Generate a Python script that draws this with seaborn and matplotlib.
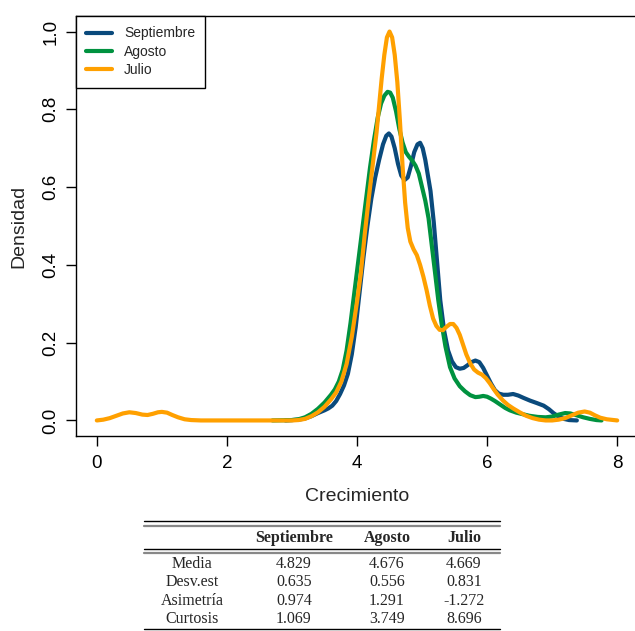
import numpy as np
import pandas as pd
import matplotlib
matplotlib.use("Agg")
import matplotlib.pyplot as plt
from matplotlib.lines import Line2D
import seaborn as sns

# ---------------- data ----------------
sep_x = [2.9, 3.1, 3.2, 3.3, 3.4, 3.5, 3.56, 3.62, 3.68, 3.74, 3.8, 3.86, 3.92, 3.98, 4.04,
         4.1, 4.16, 4.22, 4.28, 4.34, 4.4, 4.45, 4.49, 4.53, 4.58, 4.63, 4.68, 4.73, 4.78,
         4.83, 4.88, 4.93, 4.97, 5.01, 5.05, 5.09, 5.13, 5.18, 5.23, 5.28, 5.34, 5.4, 5.46,
         5.52, 5.58, 5.64, 5.7, 5.76, 5.82, 5.88, 5.94, 6.0, 6.06, 6.12, 6.18, 6.25, 6.32,
         6.4, 6.48, 6.56, 6.66, 6.76, 6.87, 6.95, 7.02, 7.1, 7.18, 7.26, 7.38]
sep_y = [0.0, 0.002, 0.005, 0.011, 0.019, 0.026, 0.031, 0.038, 0.05, 0.068, 0.09, 0.12,
         0.17, 0.24, 0.33, 0.42, 0.5, 0.57, 0.625, 0.67, 0.71, 0.732, 0.738, 0.73, 0.70,
         0.66, 0.63, 0.618, 0.625, 0.655, 0.69, 0.71, 0.714, 0.70, 0.67, 0.63, 0.59, 0.51,
         0.41, 0.309, 0.23, 0.18, 0.152, 0.137, 0.133, 0.135, 0.142, 0.15, 0.154, 0.15,
         0.135, 0.115, 0.095, 0.078, 0.069, 0.066, 0.066, 0.068, 0.064, 0.058, 0.051, 0.045,
         0.038, 0.029, 0.019, 0.01, 0.004, 0.001, 0.0]

ago_x = [2.7, 3.0, 3.1, 3.2, 3.3, 3.4, 3.5, 3.6, 3.66, 3.72, 3.78, 3.84, 3.9, 3.96, 4.02,
         4.08, 4.14, 4.2, 4.26, 4.32, 4.37, 4.42, 4.47, 4.51, 4.55, 4.6, 4.65, 4.7, 4.75,
         4.8, 4.85, 4.9, 4.95, 5.0, 5.05, 5.1, 5.15, 5.2, 5.25, 5.3, 5.36, 5.43, 5.5, 5.58,
         5.66, 5.74, 5.82, 5.88, 5.94, 6.0, 6.06, 6.12, 6.2, 6.28, 6.35, 6.45, 6.55, 6.65,
         6.78, 6.9, 7.0, 7.1, 7.2, 7.28, 7.38, 7.48, 7.58, 7.68, 7.76]
ago_y = [0.0, 0.001, 0.003, 0.008, 0.017, 0.03, 0.046, 0.066, 0.08, 0.1, 0.13, 0.18, 0.25,
         0.33, 0.41, 0.49, 0.57, 0.65, 0.72, 0.78, 0.815, 0.835, 0.845, 0.843, 0.83, 0.795,
         0.75, 0.715, 0.69, 0.678, 0.668, 0.655, 0.635, 0.60, 0.565, 0.52, 0.45, 0.38, 0.309,
         0.25, 0.19, 0.137, 0.108, 0.088, 0.075, 0.065, 0.06, 0.061, 0.063, 0.061, 0.056,
         0.05, 0.041, 0.032, 0.026, 0.02, 0.016, 0.012, 0.009, 0.008, 0.01, 0.015, 0.019,
         0.018, 0.013, 0.008, 0.004, 0.001, 0.0]

jul_x = [0.0, 0.1, 0.2, 0.3, 0.4, 0.5, 0.6, 0.7, 0.78, 0.86, 0.94, 1.0, 1.08, 1.16, 1.25,
         1.35, 1.45, 1.6, 2.0, 2.5, 3.0, 3.1, 3.2, 3.3, 3.4, 3.5, 3.6, 3.68, 3.76, 3.84, 3.92,
         4.0, 4.06, 4.12, 4.18, 4.24, 4.3, 4.34, 4.38, 4.42, 4.46, 4.5, 4.54, 4.58, 4.62,
         4.66, 4.7, 4.74, 4.78, 4.82, 4.87, 4.92, 4.97, 5.02, 5.07, 5.12, 5.17, 5.22, 5.27,
         5.32, 5.37, 5.43, 5.48, 5.53, 5.58, 5.63, 5.68, 5.74, 5.8, 5.86, 5.92, 5.98, 6.04,
         6.1, 6.16, 6.24, 6.32, 6.4, 6.5, 6.6, 6.7, 6.8, 6.9, 7.0, 7.1, 7.2, 7.3, 7.4, 7.5,
         7.58, 7.66, 7.74, 7.84, 8.0]
jul_y = [0.0, 0.002, 0.006, 0.012, 0.018, 0.021, 0.019, 0.015, 0.014, 0.017, 0.021, 0.022,
         0.02, 0.014, 0.008, 0.003, 0.001, 0.0, 0.0, 0.0, 0.0, 0.001, 0.004, 0.011, 0.021,
         0.035, 0.054, 0.072, 0.1, 0.145, 0.215, 0.305, 0.38, 0.48, 0.57, 0.655, 0.74, 0.81,
         0.88, 0.94, 0.985, 1.0, 0.985, 0.94, 0.87, 0.77, 0.655, 0.56, 0.495, 0.46, 0.44,
         0.425, 0.40, 0.37, 0.335, 0.295, 0.262, 0.243, 0.233, 0.232, 0.24, 0.248, 0.248,
         0.238, 0.22, 0.195, 0.17, 0.147, 0.131, 0.123, 0.118, 0.109, 0.096, 0.081, 0.067,
         0.052, 0.04, 0.031, 0.021, 0.012, 0.006, 0.002, 0.0, 0.0, 0.002, 0.006, 0.013, 0.02,
         0.023, 0.02, 0.013, 0.007, 0.003, 0.0]

series = ["Septiembre", "Agosto", "Julio"]
colors = ["#0a4a7c", "#00923f", "#ffa000"]

x_ticks = [0, 2, 4, 6, 8]
y_ticks = [0.0, 0.2, 0.4, 0.6, 0.8, 1.0]
y_tick_labels = ["0.0", "0.2", "0.4", "0.6", "0.8", "1.0"]

stat_rows = ["Media", "Desv.est", "Asimetría", "Curtosis"]
stat_sep = ["4.829", "0.635", "0.974", "1.069"]
stat_ago = ["4.676", "0.556", "1.291", "3.749"]
stat_jul = ["4.669", "0.831", "-1.272", "8.696"]

# ---------------- build long table ----------------
df = pd.concat([
    pd.DataFrame({"Crecimiento": sep_x, "Densidad": sep_y, "serie": series[0]}),
    pd.DataFrame({"Crecimiento": ago_x, "Densidad": ago_y, "serie": series[1]}),
    pd.DataFrame({"Crecimiento": jul_x, "Densidad": jul_y, "serie": series[2]}),
], ignore_index=True)

sns.set_style("white")
plt.rcParams["font.family"] = ["Liberation Sans", "DejaVu Sans"]

W, H = 635, 631
fig = plt.figure(figsize=(W / 100, H / 100), dpi=100)
# axes in pixel terms: left 76, right 638, top 16, bottom 436
ax = fig.add_axes([76 / W, 1 - 436 / H, (638 - 76) / W, (436 - 16) / H])

sns.lineplot(data=df, x="Crecimiento", y="Densidad", hue="serie", hue_order=series,
             palette=colors, sort=False, estimator=None, linewidth=3.0, ax=ax)
for ln in ax.get_lines():
    ln.set_solid_joinstyle("round")
    ln.set_solid_capstyle("round")

ax.set_xlim(-0.32, 8.32)
ax.set_ylim(-0.04, 1.04)
ax.set_xticks(x_ticks)
ax.set_xticklabels([str(t) for t in x_ticks])
ax.set_yticks(y_ticks)
ax.set_yticklabels(y_tick_labels)
ax.tick_params(axis="both", direction="out", length=7, width=1, color="black",
               labelsize=13.5, labelcolor="black", bottom=True, left=True)
ax.tick_params(axis="y", pad=5)
ax.tick_params(axis="x", pad=7)
for lbl in ax.get_yticklabels():
    lbl.set_rotation(90)
    lbl.set_va("center")

for s in ["left", "top", "bottom"]:
    ax.spines[s].set_color("black")
    ax.spines[s].set_linewidth(1.0)
ax.spines["right"].set_visible(False)

ax.set_xlabel("Crecimiento", fontsize=14, labelpad=11)
ax.set_ylabel("Densidad", fontsize=14, labelpad=11)

handles = [Line2D([0], [0], color=c, lw=3) for c in colors]
leg = ax.legend(handles, series, loc="upper left", borderaxespad=0, fancybox=False,
                edgecolor="black", framealpha=1, fontsize=10, handlelength=1.85,
                handletextpad=0.85, labelspacing=0.32, borderpad=0.75)
leg.get_frame().set_linewidth(1.0)

# ---------------- statistics table below ----------------
def fx(px):
    return px / W

def fy(py):
    return 1 - py / H

def hline(py, lw, color):
    fig.add_artist(Line2D([fx(144), fx(500)], [fy(py), fy(py)], color=color, lw=lw,
                          transform=fig.transFigure))

hline(521, 1.0, "black")
hline(525.5, 1.6, "#888888")
hline(548.5, 1.0, "black")
hline(552.5, 1.6, "#888888")
hline(629, 1.0, "black")

serif = ["Liberation Serif", "DejaVu Serif"]
col_x = [192, 294, 387, 464]
for cx, name in zip(col_x[1:], series):
    fig.text(fx(cx), fy(538), name, ha="center", va="center", fontsize=11.5,
             fontweight="bold", family=serif)
row_y = [564, 582, 601, 619]
for i, name in enumerate(stat_rows):
    for cx, val in zip(col_x, [name, stat_sep[i], stat_ago[i], stat_jul[i]]):
        fig.text(fx(cx), fy(row_y[i]), val, ha="center", va="center", fontsize=11.5,
                 family=serif)

fig.savefig("out.png", dpi=100)
